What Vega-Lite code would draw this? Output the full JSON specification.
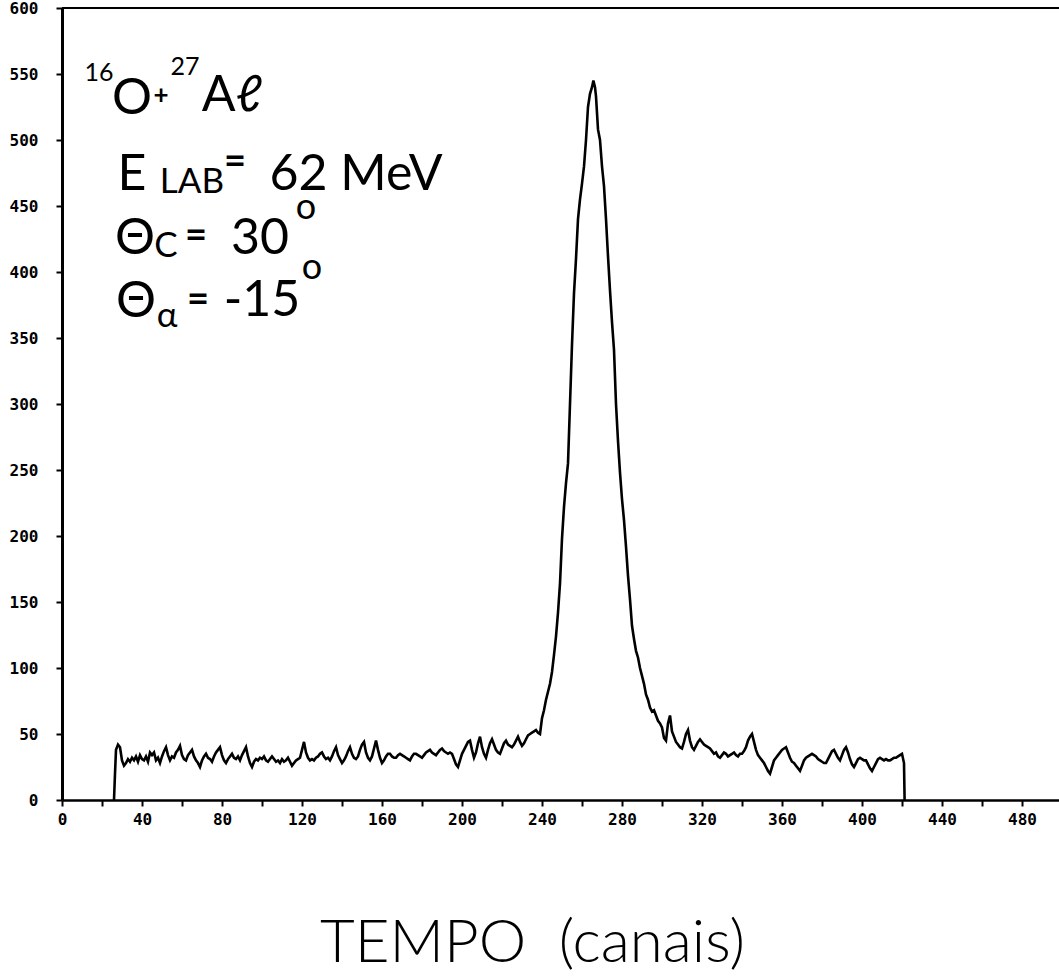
{
  "$schema": "https://vega.github.io/schema/vega-lite/v6.json",
  "autosize": "none",
  "padding": {"left": 62, "top": 8, "right": 0, "bottom": 176},
  "width": 997,
  "height": 792,
  "background": "white",
  "config": {"view": {"stroke": null}},
  "datasets": {
    "spectrum": [
      {"c":26,"n":0},{"c":26.5,"n":20},{"c":27,"n":38},{"c":28,"n":42},{"c":29,"n":40},{"c":30,"n":30},{"c":31,"n":26},{"c":32,"n":28},{"c":33,"n":31},{"c":34,"n":29},{"c":35,"n":32},{"c":36,"n":30},{"c":37,"n":33},{"c":38,"n":29},{"c":39,"n":34},{"c":40,"n":31},{"c":41,"n":30},{"c":42,"n":33},{"c":43,"n":29},{"c":44,"n":36},{"c":45,"n":34},{"c":46,"n":36},{"c":47,"n":30},{"c":48,"n":32},{"c":49,"n":28},{"c":50,"n":33},{"c":51,"n":37},{"c":52,"n":40},{"c":53,"n":34},{"c":54,"n":30},{"c":55,"n":33},{"c":56,"n":32},{"c":57,"n":36},{"c":58,"n":38},{"c":59,"n":41},{"c":60,"n":34},{"c":61,"n":31},{"c":62,"n":30},{"c":63,"n":34},{"c":64,"n":36},{"c":65,"n":38},{"c":66,"n":33},{"c":67,"n":30},{"c":68,"n":28},{"c":69,"n":25},{"c":70,"n":30},{"c":71,"n":33},{"c":72,"n":35},{"c":73,"n":32},{"c":74,"n":31},{"c":75,"n":29},{"c":76,"n":33},{"c":77,"n":36},{"c":78,"n":38},{"c":79,"n":40},{"c":80,"n":34},{"c":81,"n":30},{"c":82,"n":28},{"c":83,"n":31},{"c":84,"n":33},{"c":85,"n":35},{"c":86,"n":32},{"c":87,"n":31},{"c":88,"n":33},{"c":89,"n":30},{"c":90,"n":34},{"c":91,"n":37},{"c":92,"n":40},{"c":93,"n":33},{"c":94,"n":28},{"c":95,"n":25},{"c":96,"n":29},{"c":97,"n":31},{"c":98,"n":30},{"c":99,"n":32},{"c":100,"n":31},{"c":101,"n":33},{"c":102,"n":30},{"c":103,"n":29},{"c":104,"n":31},{"c":105,"n":33},{"c":106,"n":31},{"c":107,"n":29},{"c":108,"n":30},{"c":109,"n":28},{"c":110,"n":31},{"c":111,"n":29},{"c":112,"n":30},{"c":113,"n":32},{"c":114,"n":29},{"c":115,"n":26},{"c":116,"n":28},{"c":117,"n":30},{"c":118,"n":31},{"c":119,"n":32},{"c":120,"n":38},{"c":121,"n":44},{"c":122,"n":36},{"c":123,"n":32},{"c":124,"n":30},{"c":125,"n":31},{"c":126,"n":30},{"c":127,"n":32},{"c":128,"n":33},{"c":129,"n":35},{"c":130,"n":36},{"c":131,"n":33},{"c":132,"n":31},{"c":133,"n":32},{"c":134,"n":30},{"c":135,"n":33},{"c":136,"n":37},{"c":137,"n":40},{"c":138,"n":34},{"c":139,"n":31},{"c":140,"n":28},{"c":141,"n":30},{"c":142,"n":33},{"c":143,"n":37},{"c":144,"n":40},{"c":145,"n":35},{"c":146,"n":32},{"c":147,"n":31},{"c":148,"n":33},{"c":149,"n":38},{"c":150,"n":42},{"c":151,"n":44},{"c":152,"n":36},{"c":153,"n":32},{"c":154,"n":30},{"c":155,"n":33},{"c":156,"n":39},{"c":157,"n":45},{"c":158,"n":38},{"c":159,"n":32},{"c":160,"n":28},{"c":161,"n":30},{"c":162,"n":33},{"c":163,"n":35},{"c":164,"n":35},{"c":165,"n":33},{"c":166,"n":32},{"c":167,"n":32},{"c":168,"n":34},{"c":169,"n":35},{"c":170,"n":34},{"c":171,"n":33},{"c":172,"n":32},{"c":173,"n":31},{"c":174,"n":30},{"c":175,"n":33},{"c":176,"n":35},{"c":177,"n":35},{"c":178,"n":34},{"c":179,"n":33},{"c":180,"n":32},{"c":181,"n":34},{"c":182,"n":36},{"c":183,"n":37},{"c":184,"n":38},{"c":185,"n":36},{"c":186,"n":35},{"c":187,"n":34},{"c":188,"n":36},{"c":189,"n":38},{"c":190,"n":39},{"c":191,"n":37},{"c":192,"n":36},{"c":193,"n":35},{"c":194,"n":36},{"c":195,"n":35},{"c":196,"n":31},{"c":197,"n":27},{"c":198,"n":25},{"c":199,"n":30},{"c":200,"n":35},{"c":201,"n":38},{"c":202,"n":41},{"c":203,"n":44},{"c":204,"n":45},{"c":205,"n":38},{"c":206,"n":32},{"c":207,"n":36},{"c":208,"n":43},{"c":209,"n":48},{"c":210,"n":40},{"c":211,"n":35},{"c":212,"n":32},{"c":213,"n":38},{"c":214,"n":43},{"c":215,"n":46},{"c":216,"n":42},{"c":217,"n":38},{"c":218,"n":36},{"c":219,"n":35},{"c":220,"n":39},{"c":221,"n":43},{"c":222,"n":45},{"c":223,"n":42},{"c":224,"n":41},{"c":225,"n":40},{"c":226,"n":42},{"c":227,"n":45},{"c":228,"n":48},{"c":229,"n":44},{"c":230,"n":41},{"c":231,"n":43},{"c":232,"n":46},{"c":233,"n":49},{"c":234,"n":50},{"c":235,"n":51},{"c":236,"n":52},{"c":237,"n":53},{"c":238,"n":51},{"c":239,"n":50},{"c":240,"n":62},{"c":241,"n":68},{"c":242,"n":76},{"c":243,"n":82},{"c":244,"n":88},{"c":245,"n":97},{"c":246,"n":110},{"c":247,"n":124},{"c":248,"n":142},{"c":249,"n":164},{"c":250,"n":198},{"c":251,"n":222},{"c":252,"n":240},{"c":253,"n":255},{"c":254,"n":300},{"c":255,"n":345},{"c":256,"n":384},{"c":257,"n":410},{"c":258,"n":440},{"c":259,"n":455},{"c":260,"n":467},{"c":261,"n":480},{"c":262,"n":500},{"c":263,"n":525},{"c":264,"n":535},{"c":265,"n":540},{"c":265.7,"n":545},{"c":266.5,"n":540},{"c":267,"n":533},{"c":268,"n":508},{"c":269,"n":500},{"c":270,"n":480},{"c":271,"n":465},{"c":272,"n":440},{"c":273,"n":412},{"c":274,"n":386},{"c":275,"n":362},{"c":276,"n":341},{"c":277,"n":300},{"c":278,"n":272},{"c":279,"n":248},{"c":280,"n":228},{"c":281,"n":212},{"c":282,"n":192},{"c":283,"n":170},{"c":284,"n":152},{"c":285,"n":132},{"c":286,"n":122},{"c":287,"n":113},{"c":288,"n":108},{"c":289,"n":100},{"c":290,"n":94},{"c":291,"n":88},{"c":292,"n":80},{"c":293,"n":76},{"c":294,"n":70},{"c":295,"n":67},{"c":296,"n":68},{"c":297,"n":64},{"c":298,"n":60},{"c":299,"n":58},{"c":300,"n":55},{"c":301,"n":47},{"c":302,"n":45},{"c":303,"n":58},{"c":304,"n":64},{"c":305,"n":52},{"c":306,"n":48},{"c":307,"n":44},{"c":308,"n":42},{"c":309,"n":40},{"c":310,"n":39},{"c":311,"n":44},{"c":312,"n":50},{"c":313,"n":53},{"c":314,"n":45},{"c":315,"n":40},{"c":316,"n":38},{"c":317,"n":41},{"c":318,"n":44},{"c":319,"n":46},{"c":320,"n":44},{"c":321,"n":42},{"c":322,"n":41},{"c":323,"n":40},{"c":324,"n":39},{"c":325,"n":37},{"c":326,"n":35},{"c":327,"n":36},{"c":328,"n":33},{"c":329,"n":32},{"c":330,"n":34},{"c":331,"n":36},{"c":332,"n":35},{"c":333,"n":33},{"c":334,"n":34},{"c":335,"n":35},{"c":336,"n":36},{"c":337,"n":34},{"c":338,"n":33},{"c":339,"n":35},{"c":340,"n":35},{"c":341,"n":37},{"c":342,"n":40},{"c":343,"n":45},{"c":344,"n":48},{"c":345,"n":50},{"c":346,"n":44},{"c":347,"n":38},{"c":348,"n":34},{"c":349,"n":32},{"c":350,"n":30},{"c":351,"n":28},{"c":352,"n":25},{"c":353,"n":22},{"c":354,"n":20},{"c":355,"n":25},{"c":356,"n":30},{"c":357,"n":32},{"c":358,"n":34},{"c":359,"n":36},{"c":360,"n":38},{"c":361,"n":39},{"c":362,"n":40},{"c":363,"n":36},{"c":364,"n":32},{"c":365,"n":29},{"c":366,"n":28},{"c":367,"n":26},{"c":368,"n":24},{"c":369,"n":22},{"c":370,"n":26},{"c":371,"n":30},{"c":372,"n":32},{"c":373,"n":33},{"c":374,"n":34},{"c":375,"n":35},{"c":376,"n":34},{"c":377,"n":33},{"c":378,"n":31},{"c":379,"n":30},{"c":380,"n":29},{"c":381,"n":28},{"c":382,"n":28},{"c":383,"n":31},{"c":384,"n":34},{"c":385,"n":37},{"c":386,"n":38},{"c":387,"n":35},{"c":388,"n":32},{"c":389,"n":30},{"c":390,"n":34},{"c":391,"n":38},{"c":392,"n":40},{"c":393,"n":36},{"c":394,"n":31},{"c":395,"n":27},{"c":396,"n":25},{"c":397,"n":28},{"c":398,"n":31},{"c":399,"n":32},{"c":400,"n":31},{"c":401,"n":30},{"c":402,"n":30},{"c":403,"n":27},{"c":404,"n":24},{"c":405,"n":22},{"c":406,"n":25},{"c":407,"n":28},{"c":408,"n":31},{"c":409,"n":32},{"c":410,"n":31},{"c":411,"n":30},{"c":412,"n":31},{"c":413,"n":30},{"c":414,"n":30},{"c":415,"n":31},{"c":416,"n":32},{"c":417,"n":32},{"c":418,"n":33},{"c":419,"n":34},{"c":420,"n":35},{"c":421,"n":28},{"c":421.3,"n":0}
    ],
    "notes": [
      {"k":"sup","t":"16","c":18.5,"n":545},
      {"k":"big","t":"O","c":35,"n":520},
      {"k":"plus","t":"+","c":49.5,"n":527},
      {"k":"sup","t":"27","c":61.5,"n":549},
      {"k":"big","t":"Aℓ","c":85,"n":522},
      {"k":"big","t":"E","c":35,"n":462},
      {"k":"sub","t":"LAB","c":65,"n":460},
      {"k":"eq","t":"=","c":86.5,"n":474},
      {"k":"big","t":"62 MeV","c":147,"n":462},
      {"k":"big","t":"Θ","c":36.5,"n":414},
      {"k":"sub","t":"C","c":52,"n":411},
      {"k":"eq","t":"=","c":67,"n":418},
      {"k":"big","t":"30","c":99,"n":414},
      {"k":"deg","t":"o","c":122,"n":440},
      {"k":"big","t":"Θ","c":37,"n":366},
      {"k":"sub","t":"α","c":52.5,"n":358},
      {"k":"eq","t":"=","c":68,"n":370},
      {"k":"big","t":"-15","c":100,"n":367},
      {"k":"deg","t":"o","c":125,"n":395}
    ]
  },
  "layer": [
    {
      "data": {"name": "spectrum"},
      "mark": {"type": "line", "color": "black", "strokeWidth": 2.6},
      "encoding": {
        "x": {
          "field": "c", "type": "quantitative",
          "scale": {"domain": [0, 498.5], "nice": false, "zero": false},
          "axis": {
            "values": [0,20,40,60,80,100,120,140,160,180,200,220,240,260,280,300,320,340,360,380,400,420,440,460,480],
            "labelExpr": "datum.value % 40 == 0 ? datum.label : ''",
            "title": "TEMPO\u00a0\u00a0(canais)",
            "titleFont": "Lato", "titleFontWeight": 300, "titleFontSize": 60, "titleColor": "black",
            "titleX": 470, "titleY": 161, "titleAlign": "center", "titleBaseline": "alphabetic",
            "grid": false, "domainColor": "black", "domainWidth": 2.5,
            "tickColor": "black", "tickWidth": 2, "tickSize": 6,
            "labelFont": "DejaVu Sans Mono", "labelFontWeight": "bold", "labelFontSize": 16, "labelColor": "black",
            "labelPadding": 5, "labelFlush": false, "labelOverlap": false
          }
        },
        "y": {
          "field": "n", "type": "quantitative",
          "scale": {"domain": [0, 600], "nice": false},
          "axis": {
            "values": [0,50,100,150,200,250,300,350,400,450,500,550,600],
            "title": null, "grid": false,
            "domainColor": "black", "domainWidth": 3,
            "tickColor": "black", "tickWidth": 2, "tickSize": 6,
            "labelFont": "DejaVu Sans Mono", "labelFontWeight": "bold", "labelFontSize": 16, "labelColor": "black",
            "labelPadding": 18, "labelOverlap": false
          }
        }
      }
    },
    {
      "data": {"name": "spectrum"},
      "mark": {"type": "rule", "color": "black", "strokeWidth": 2},
      "encoding": {
        "y": {"datum": 600, "type": "quantitative"}
      }
    },
    {
      "data": {"name": "notes"},
      "transform": [{"filter": "datum.k == 'big'"}],
      "mark": {"type": "text", "font": "Lato", "fontSize": 50, "align": "center", "baseline": "alphabetic", "color": "black"},
      "encoding": {
        "x": {"field": "c", "type": "quantitative"},
        "y": {"field": "n", "type": "quantitative"},
        "text": {"field": "t"}
      }
    },
    {
      "data": {"name": "notes"},
      "transform": [{"filter": "datum.k == 'sub'"}],
      "mark": {"type": "text", "font": "Lato", "fontSize": 35, "align": "center", "baseline": "alphabetic", "color": "black"},
      "encoding": {
        "x": {"field": "c", "type": "quantitative"},
        "y": {"field": "n", "type": "quantitative"},
        "text": {"field": "t"}
      }
    },
    {
      "data": {"name": "notes"},
      "transform": [{"filter": "datum.k == 'sup'"}],
      "mark": {"type": "text", "font": "Lato", "fontSize": 25, "align": "center", "baseline": "alphabetic", "color": "black"},
      "encoding": {
        "x": {"field": "c", "type": "quantitative"},
        "y": {"field": "n", "type": "quantitative"},
        "text": {"field": "t"}
      }
    },
    {
      "data": {"name": "notes"},
      "transform": [{"filter": "datum.k == 'eq'"}],
      "mark": {"type": "text", "font": "Lato", "fontSize": 38, "fontWeight": "bold", "align": "center", "baseline": "alphabetic", "color": "black"},
      "encoding": {
        "x": {"field": "c", "type": "quantitative"},
        "y": {"field": "n", "type": "quantitative"},
        "text": {"field": "t"}
      }
    },
    {
      "data": {"name": "notes"},
      "transform": [{"filter": "datum.k == 'plus'"}],
      "mark": {"type": "text", "font": "Lato", "fontSize": 26, "fontWeight": "bold", "align": "center", "baseline": "alphabetic", "color": "black"},
      "encoding": {
        "x": {"field": "c", "type": "quantitative"},
        "y": {"field": "n", "type": "quantitative"},
        "text": {"field": "t"}
      }
    },
    {
      "data": {"name": "notes"},
      "transform": [{"filter": "datum.k == 'deg'"}],
      "mark": {"type": "text", "font": "Lato", "fontSize": 36, "align": "center", "baseline": "alphabetic", "color": "black"},
      "encoding": {
        "x": {"field": "c", "type": "quantitative"},
        "y": {"field": "n", "type": "quantitative"},
        "text": {"field": "t"}
      }
    }
  ]
}
